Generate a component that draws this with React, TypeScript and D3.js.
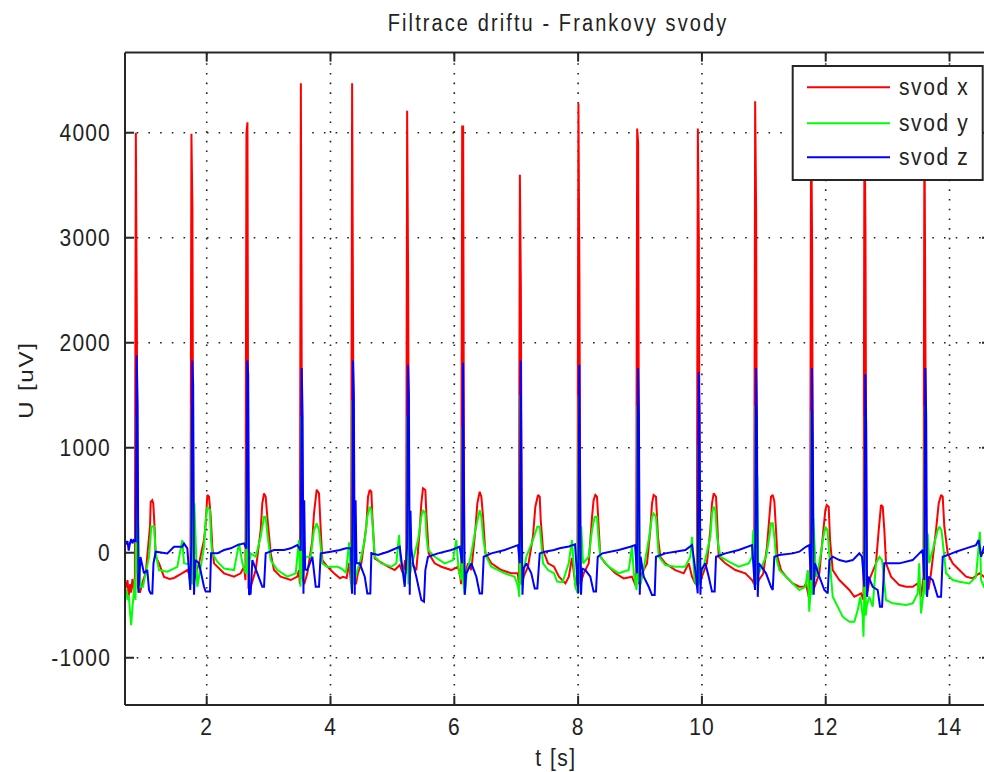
import React from 'react';
import * as d3 from 'd3';

const W = 984;
const H = 772;
const plot = { left: 125, top: 52.6, right: 991, bottom: 705 };
const xDomain: [number, number] = [0.68, 14.67];
const yDomain: [number, number] = [-1450, 4763];
const xTicks = [2, 4, 6, 8, 10, 12, 14];
const yTicks = [-1000, 0, 1000, 2000, 3000, 4000];
const titleText = 'Filtrace driftu - Frankovy svody';
const xLabel = 't [s]';
const yLabel = 'U [uV]';
const seriesNames = ['svod x', 'svod y', 'svod z'];
const seriesColors = ['#ff0000', '#00ff00', '#0000ff'];

// svod x  [t (s), U (uV)]
const svodX: [number, number][] = [
  [0.68,-300],[0.70,-330],[0.72,-260],[0.74,-420],[0.76,-300],[0.78,-380],[0.80,-250],[0.82,-330],[0.839,-420],
  [0.855,4000],[0.871,2250],[0.887,-330],[0.92,-380],[0.98,-250],[1.015,-195],[1.06,100],[1.084,250],[1.095,485],[1.12,500],[1.137,470],[1.16,215],[1.176,-40],[1.229,-100],[1.31,-230],[1.40,-250],[1.472,-240],[1.606,-195],[1.687,-165],[1.715,-200],[1.737,-300],
  [1.753,3990],[1.769,3290],[1.785,-300],[1.81,-228],[1.876,-101],[1.956,121],[1.984,280],[2.01,550],[2.037,533],[2.065,343],[2.09,57],[2.118,-101],[2.28,-196],[2.441,-228],[2.549,-196],[2.603,-133],[2.626,-260],
  [2.642,4000],[2.658,4100],[2.674,-330],[2.711,-324],[2.792,-165],[2.872,216],[2.898,470],[2.926,565],[2.953,533],[2.979,343],[3.034,-6],[3.087,-165],[3.195,-228],[3.357,-260],[3.464,-228],[3.49,-165],[3.505,-300],
  [3.521,4470],[3.537,1200],[3.553,-250],[3.575,-300],[3.625,-196],[3.706,121],[3.733,375],[3.777,600],[3.814,565],[3.842,216],[3.868,-70],[3.948,-133],[4.057,-196],[4.153,-244],[4.20,-230],[4.26,-240],[4.30,-100],[4.333,-300],
  [4.349,4470],[4.365,2040],[4.381,-250],[4.41,-300],[4.44,-200],[4.498,-101],[4.578,248],[4.606,533],[4.633,597],[4.66,581],[4.676,343],[4.714,-54],[4.795,-85],[4.929,-133],[5.037,-165],[5.118,-117],[5.171,-196],[5.205,-70],[5.222,-200],
  [5.238,4210],[5.254,2600],[5.27,-250],[5.306,-101],[5.386,-165],[5.441,216],[5.467,470],[5.494,613],[5.532,597],[5.548,375],[5.586,-6],[5.683,-101],[5.79,-133],[5.952,-165],[6.06,-133],[6.095,-228],[6.111,-300],
  [6.127,4060],[6.143,4060],[6.159,-250],[6.221,-101],[6.275,-165],[6.34,216],[6.372,470],[6.41,581],[6.437,533],[6.464,343],[6.501,-6],[6.598,-101],[6.759,-165],[6.921,-196],[7.025,-196],[7.043,-290],
  [7.059,3600],[7.075,2550],[7.091,-300],[7.12,-228],[7.19,-133],[7.27,152],[7.309,438],[7.352,550],[7.38,533],[7.396,311],[7.433,26],[7.514,-101],[7.611,-133],[7.69,-228],[7.795,-292],[7.85,-228],[7.90,-50],[7.96,-320],[7.989,-200],
  [8.005,4280],[8.021,2620],[8.037,-300],[8.09,-196],[8.171,-101],[8.225,343],[8.25,500],[8.278,550],[8.305,533],[8.332,248],[8.358,-38],[8.44,-101],[8.601,-196],[8.737,-244],[8.87,-228],[8.938,-324],
  [8.954,4040],[8.97,3900],[8.986,-300],[9.032,-196],[9.113,-101],[9.166,216],[9.194,470],[9.22,550],[9.258,533],[9.29,152],[9.328,-38],[9.409,-101],[9.57,-165],[9.706,-196],[9.787,-101],[9.84,-228],[9.89,-290],[9.918,-300],
  [9.934,4040],[9.95,3000],[9.966,-300],[10.0,-228],[10.08,-101],[10.136,216],[10.163,470],[10.19,565],[10.228,533],[10.244,343],[10.271,-38],[10.378,-101],[10.54,-165],[10.701,-196],[10.81,-260],[10.844,-300],
  [10.86,4300],[10.876,3230],[10.892,-300],[10.92,-260],[10.99,-200],[11.05,50],[11.09,343],[11.116,533],[11.144,550],[11.17,490],[11.197,216],[11.22,-38],[11.278,-165],[11.359,-228],[11.467,-292],[11.573,-324],[11.654,-324],[11.681,-292],[11.725,-419],[11.748,-228],
  [11.764,4300],[11.78,2930],[11.796,-350],[11.82,-324],[11.897,-196],[11.962,216],[11.994,406],[12.016,454],[12.048,438],[12.07,121],[12.113,-165],[12.22,-260],[12.382,-355],[12.462,-419],[12.517,-403],[12.57,-387],[12.61,-450],
  [12.626,4300],[12.642,3070],[12.658,-400],[12.68,-350],[12.71,-250],[12.812,-101],[12.856,216],[12.893,454],[12.921,438],[12.947,216],[12.974,-101],[13.055,-228],[13.189,-308],[13.297,-324],[13.405,-324],[13.486,-292],[13.54,-419],[13.579,-228],
  [13.595,4200],[13.611,1950],[13.627,-300],[13.66,-350],[13.70,-200],[13.782,216],[13.825,470],[13.863,550],[13.89,533],[13.916,248],[13.971,-6],[14.052,-101],[14.159,-165],[14.267,-228],[14.375,-244],[14.482,-196],[14.558,-228],[14.62,-300],[14.67,-260],
];

// svod y
const svodY: [number, number][] = [
  [0.68,-330],[0.70,-360],[0.72,-450],[0.74,-400],[0.76,-560],[0.78,-690],[0.80,-520],[0.82,-400],[0.84,-250],[0.85,-450],
  [0.866,1300],[0.878,-200],[0.89,310],[0.905,-100],[0.934,-325],[0.97,-325],[1.068,-40],[1.105,250],[1.149,250],[1.176,0],[1.229,-165],[1.364,-180],[1.525,-135],[1.606,120],[1.633,-100],[1.714,-110],[1.745,-300],
  [1.759,1420],[1.771,-300],[1.80,470],[1.848,-324],[1.913,-101],[1.956,57],[1.984,311],[2.01,438],[2.053,406],[2.07,121],[2.09,-6],[2.171,-85],[2.28,-150],[2.441,-165],[2.522,89],[2.576,-101],[2.635,-200],
  [2.648,1040],[2.66,-200],[2.711,-6],[2.792,-38],[2.872,152],[2.926,343],[2.953,343],[2.979,184],[3.034,-70],[3.141,-165],[3.303,-228],[3.438,-196],[3.464,-38],[3.49,121],[3.515,-324],
  [3.527,1300],[3.54,-250],[3.599,-38],[3.68,-38],[3.733,216],[3.777,280],[3.814,216],[3.868,-101],[3.948,-133],[4.11,-133],[4.18,-150],[4.25,-190],[4.30,100],[4.34,-350],
  [4.355,1450],[4.368,-300],[4.40,-250],[4.44,-150],[4.472,-101],[4.553,121],[4.595,343],[4.633,438],[4.66,406],[4.687,216],[4.714,-38],[4.821,-101],[4.982,-133],[5.063,-101],[5.107,168],[5.13,-70],[5.199,-228],[5.23,-150],
  [5.244,1300],[5.258,-300],[5.30,-150],[5.414,121],[5.467,343],[5.494,406],[5.532,375],[5.55,152],[5.575,26],[5.683,-38],[5.845,-101],[5.979,-70],[6.032,121],[6.07,-165],[6.115,-260],
  [6.133,1200],[6.147,-300],[6.17,-400],[6.20,-200],[6.275,-6],[6.34,216],[6.41,406],[6.437,343],[6.47,121],[6.517,-38],[6.598,-133],[6.814,-196],[6.975,-228],[7.03,-324],[7.05,-420],
  [7.065,1500],[7.079,-300],[7.163,-38],[7.27,121],[7.341,248],[7.38,248],[7.41,57],[7.433,-101],[7.514,-165],[7.611,-196],[7.66,-275],[7.75,-280],[7.848,-101],[7.90,121],[7.955,-324],[7.995,-387],
  [8.011,1500],[8.025,-300],[8.05,250],[8.08,-100],[8.171,-38],[8.225,216],[8.268,343],[8.305,343],[8.332,121],[8.358,-38],[8.494,-133],[8.656,-196],[8.817,-165],[8.87,57],[8.90,-196],[8.945,-355],
  [8.96,1400],[8.974,-250],[9.01,-300],[9.06,-150],[9.14,121],[9.194,343],[9.22,375],[9.258,343],[9.302,-38],[9.409,-117],[9.57,-133],[9.732,-133],[9.813,-38],[9.84,152],[9.88,-260],[9.925,-324],
  [9.94,1025],[9.954,-300],[9.99,-200],[10.04,-100],[10.136,152],[10.163,375],[10.19,438],[10.217,406],[10.244,152],[10.298,-38],[10.433,-85],[10.594,-133],[10.756,-101],[10.81,-38],[10.83,216],[10.852,-324],
  [10.866,1400],[10.88,-300],[10.895,740],[10.912,-200],[11.036,-38],[11.089,152],[11.116,280],[11.144,280],[11.17,152],[11.197,-38],[11.25,-165],[11.359,-228],[11.467,-292],[11.573,-355],[11.671,-324],[11.71,-165],[11.734,-562],[11.756,-355],
  [11.77,1350],[11.784,-400],[11.80,330],[11.843,-228],[11.897,-101],[11.962,152],[11.994,248],[12.03,216],[12.059,-38],[12.113,-419],[12.167,-482],[12.274,-609],[12.382,-657],[12.462,-657],[12.517,-546],[12.559,-419],[12.598,-609],[12.61,-800],[12.62,-482],
  [12.632,1300],[12.646,-600],[12.665,-500],[12.704,-419],[12.759,-514],[12.812,-101],[12.867,-38],[12.91,-70],[12.974,-450],[13.082,-482],[13.297,-498],[13.405,-482],[13.486,-387],[13.51,-101],[13.54,-578],[13.585,-355],
  [13.601,1400],[13.615,-400],[13.648,184],[13.67,-100],[13.73,30],[13.809,216],[13.836,248],[13.87,216],[13.916,-38],[13.944,-196],[14.052,-260],[14.159,-276],[14.32,-292],[14.428,-228],[14.49,200],[14.51,-260],[14.56,-330],[14.62,-350],[14.67,-300],
];

// svod z
const svodZ: [number, number][] = [
  [0.68,120],[0.70,80],[0.72,110],[0.74,20],[0.76,90],[0.78,130],[0.80,90],[0.82,120],[0.853,110],
  [0.869,1880],[0.883,1420],[0.897,-380],[0.93,-40],[0.987,-196],[1.04,-165],[1.068,-355],[1.095,-387],[1.121,-387],[1.14,-100],[1.176,10],[1.364,-6],[1.472,57],[1.606,57],[1.633,89],[1.687,42],[1.735,-355],[1.751,80],
  [1.767,1830],[1.781,1600],[1.795,-400],[1.815,-70],[1.876,-101],[1.956,-324],[1.984,-370],[2.053,-370],[2.07,-6],[2.171,-6],[2.28,26],[2.388,42],[2.495,73],[2.603,89],[2.64,40],
  [2.656,1830],[2.67,1700],[2.684,-400],[2.71,-390],[2.737,-70],[2.818,-196],[2.898,-324],[2.926,-324],[2.953,-6],[3.087,26],[3.249,26],[3.357,42],[3.464,73],[3.519,20],
  [3.535,1760],[3.549,1300],[3.563,-390],[3.575,500],[3.59,-160],[3.625,-165],[3.706,-38],[3.761,-324],[3.814,-324],[3.842,-6],[4.003,10],[4.153,26],[4.25,42],[4.33,42],[4.347,-390],
  [4.363,1830],[4.377,1500],[4.391,-400],[4.405,500],[4.42,-100],[4.472,-101],[4.553,-228],[4.595,-387],[4.643,-387],[4.66,-6],[4.767,-22],[4.929,10],[5.118,57],[5.199,-324],[5.236,60],
  [5.252,1790],[5.266,1500],[5.28,-400],[5.292,400],[5.305,50],[5.333,-101],[5.386,-228],[5.467,-450],[5.51,-466],[5.532,-165],[5.575,-38],[5.737,-6],[5.952,26],[6.087,57],[6.125,-100],
  [6.141,1810],[6.155,720],[6.169,-400],[6.19,-200],[6.275,-101],[6.356,-228],[6.41,-387],[6.448,-387],[6.475,-38],[6.598,-6],[6.814,26],[7.029,73],[7.057,-100],
  [7.073,1830],[7.087,500],[7.101,-400],[7.12,-150],[7.163,-101],[7.244,-196],[7.299,-340],[7.341,-340],[7.38,-6],[7.46,10],[7.611,26],[7.70,42],[7.85,60],[7.95,80],[8.003,-387],
  [8.019,1790],[8.033,530],[8.047,-400],[8.065,-150],[8.117,-165],[8.197,-228],[8.25,-370],[8.289,-370],[8.317,-38],[8.39,-6],[8.656,26],[8.843,57],[8.92,73],[8.952,-196],
  [8.968,1760],[8.982,1300],[8.996,-400],[9.01,-38],[9.06,-228],[9.14,-324],[9.194,-403],[9.237,-403],[9.258,-38],[9.409,-6],[9.732,26],[9.84,73],[9.90,-196],[9.932,-387],
  [9.948,1720],[9.962,1300],[9.976,-400],[9.99,-165],[10.055,-101],[10.11,-228],[10.163,-370],[10.206,-370],[10.228,-38],[10.378,-6],[10.594,26],[10.81,73],[10.858,-355],
  [10.874,1760],[10.888,1300],[10.902,-420],[10.92,-100],[11.036,-196],[11.116,-324],[11.144,-355],[11.17,-38],[11.25,-22],[11.467,-6],[11.573,10],[11.681,57],[11.734,73],[11.762,-260],
  [11.778,1760],[11.792,1000],[11.806,-400],[11.825,-100],[11.897,-228],[11.978,-355],[12.032,-387],[12.059,-70],[12.113,-38],[12.22,-70],[12.328,-85],[12.436,-70],[12.49,-38],[12.543,-6],[12.586,-38],[12.624,-324],
  [12.64,1700],[12.654,1200],[12.668,-420],[12.69,-228],[12.759,-324],[12.84,-355],[12.877,-514],[12.91,-514],[12.947,-101],[13.0,-101],[13.189,-101],[13.405,-70],[13.512,-6],[13.567,26],[13.593,-260],
  [13.609,1760],[13.623,1300],[13.637,-420],[13.66,-228],[13.728,-260],[13.809,-419],[13.863,-419],[13.89,-38],[13.971,-22],[14.105,10],[14.267,42],[14.428,73],[14.47,121],[14.51,-38],[14.558,57],[14.62,80],[14.67,60],
];

const FONT = '"Liberation Sans", Arial, Helvetica, sans-serif';

export default function App() {
  const x = d3.scaleLinear().domain(xDomain).range([plot.left, plot.right]);
  const y = d3.scaleLinear().domain(yDomain).range([plot.bottom, plot.top]);
  const line = d3
    .line<[number, number]>()
    .x((d) => x(d[0]))
    .y((d) => y(d[1]));
  const series = [svodX, svodY, svodZ];
  const txtColor = '#222';
  const legend = { x: 792.7, y: 66, w: 190, h: 114 };
  const rowY = [87.3, 123.3, 157.3];

  return (
    <svg
      width={W}
      height={H}
      style={{ position: 'absolute', left: 0, top: 0, background: '#fff' }}
      fontFamily={FONT}
    >
      <defs>
        <clipPath id="plotClip">
          <rect x={plot.left} y={plot.top} width={plot.right - plot.left} height={plot.bottom - plot.top} />
        </clipPath>
      </defs>
      <rect x={0} y={0} width={W} height={H} fill="#fff" />
      {/* grid */}
      {xTicks.map((t) => (
        <line key={'gx' + t} x1={x(t)} x2={x(t)} y1={plot.bottom} y2={plot.top}
          stroke="#222" strokeWidth={1.6} strokeDasharray="1.6,8.1" />
      ))}
      {yTicks.map((t) => (
        <line key={'gy' + t} x1={plot.left} x2={plot.right} y1={y(t)} y2={y(t)}
          stroke="#222" strokeWidth={1.6} strokeDasharray="1.6,10.1" />
      ))}
      {/* data */}
      <g clipPath="url(#plotClip)">
        {series.map((s, i) => (
          <path key={'s' + i} d={line(s) || ''} fill="none" stroke={seriesColors[i]}
            strokeWidth={2} strokeLinejoin="miter" strokeMiterlimit={2} />
        ))}
      </g>
      {/* axes box */}
      <g stroke="#262626" strokeWidth={2} fill="none">
        <line x1={plot.left} x2={plot.right} y1={plot.top} y2={plot.top} />
        <line x1={plot.left} x2={plot.right} y1={plot.bottom} y2={plot.bottom} />
        <line x1={plot.left} x2={plot.left} y1={plot.top} y2={plot.bottom} />
        <line x1={plot.right} x2={plot.right} y1={plot.top} y2={plot.bottom} />
        {xTicks.map((t) => (
          <g key={'tx' + t}>
            <line x1={x(t)} x2={x(t)} y1={plot.bottom} y2={plot.bottom - 9} />
            <line x1={x(t)} x2={x(t)} y1={plot.top} y2={plot.top + 9} />
          </g>
        ))}
        {yTicks.map((t) => (
          <g key={'ty' + t}>
            <line x1={plot.left} x2={plot.left + 9} y1={y(t)} y2={y(t)} />
            <line x1={plot.right} x2={plot.right - 9} y1={y(t)} y2={y(t)} />
          </g>
        ))}
      </g>
      {/* tick labels */}
      {xTicks.map((t) => (
        <text key={'lx' + t} transform={`translate(${x(t)},735) scale(1,1.15)`} textAnchor="middle"
          fontSize={21} letterSpacing={1} fill={txtColor}>{t}</text>
      ))}
      {yTicks.map((t) => (
        <text key={'ly' + t} transform={`translate(111,${y(t) + 8.5}) scale(1,1.15)`} textAnchor="end"
          fontSize={21} letterSpacing={1.2} fill={txtColor}>{t}</text>
      ))}
      {/* labels */}
      <text transform={`translate(558,31) scale(1,1.15)`} textAnchor="middle" fontSize={20}
        letterSpacing={2.1} fill={txtColor}>{titleText}</text>
      <text transform={`translate(556,766) scale(1,1.15)`} textAnchor="middle" fontSize={21}
        letterSpacing={1.5} fill={txtColor}>{xLabel}</text>
      <text transform={`translate(33,380) rotate(-90) scale(1.15,1)`} textAnchor="middle" fontSize={21}
        letterSpacing={1.5} fill={txtColor}>{yLabel}</text>
      {/* legend */}
      <rect x={legend.x} y={legend.y} width={legend.w} height={legend.h} fill="#fff"
        stroke="#262626" strokeWidth={2} />
      {seriesNames.map((n, i) => (
        <g key={'lg' + i}>
          <line x1={807} x2={890} y1={rowY[i]} y2={rowY[i]} stroke={seriesColors[i]} strokeWidth={2} />
          <text transform={`translate(899,${rowY[i] + 7.5}) scale(1,1.15)`} fontSize={21}
            letterSpacing={1.6} fill={txtColor}>{n}</text>
        </g>
      ))}
    </svg>
  );
}
